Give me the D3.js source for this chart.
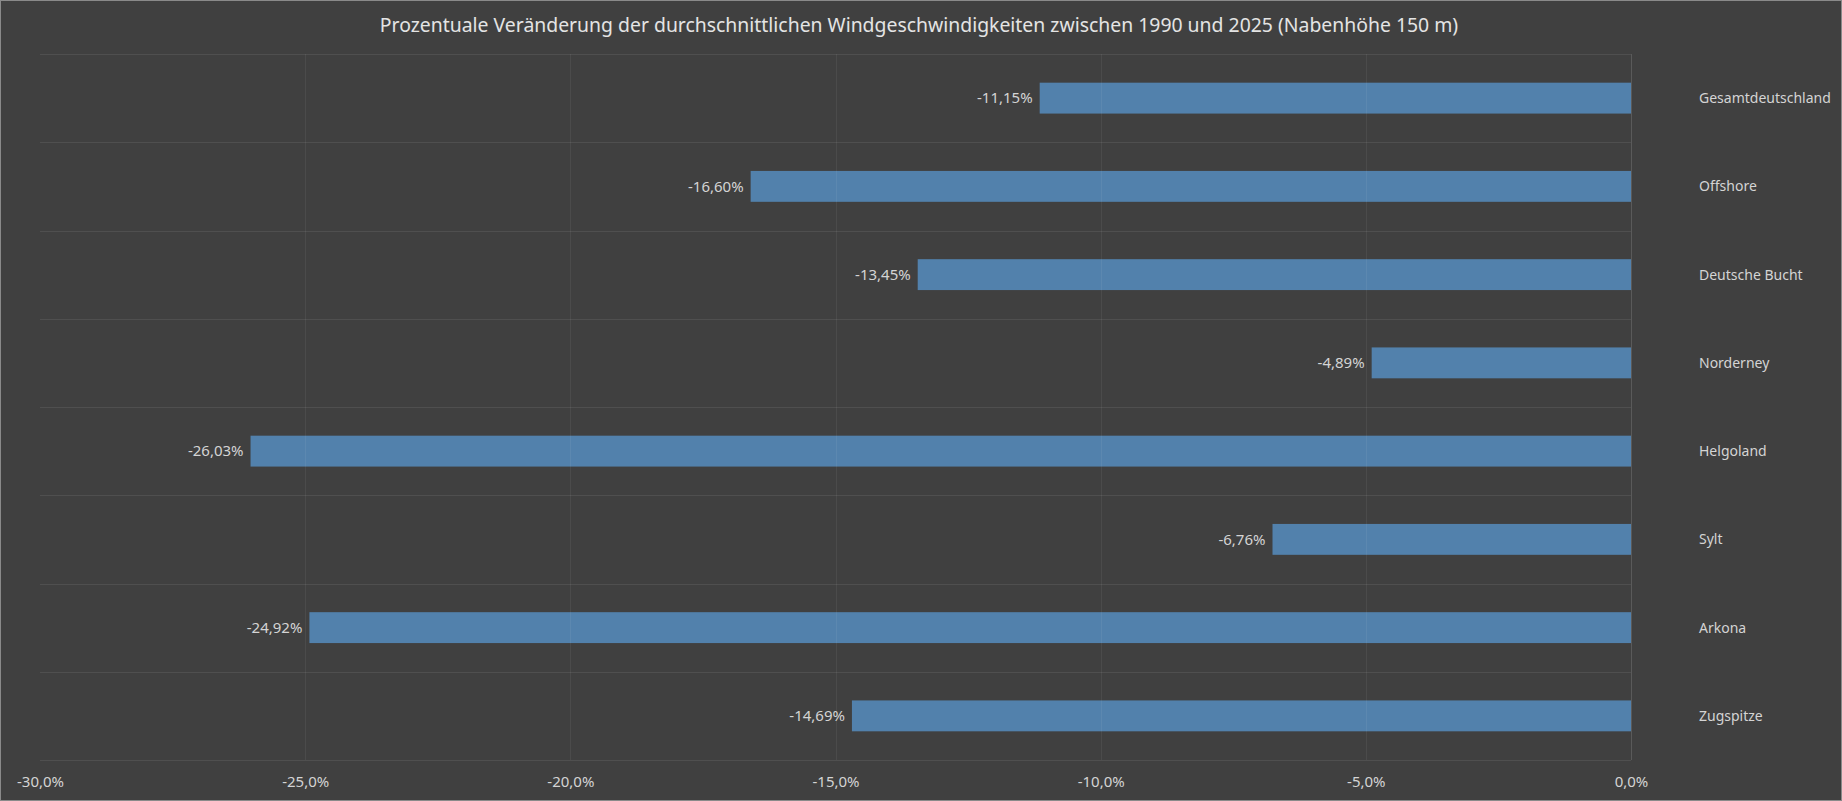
<!DOCTYPE html>
<html>
<head>
<meta charset="utf-8">
<script src="https://cdn.jsdelivr.net/npm/d3@7"></script>
<style>
  html, body { margin: 0; padding: 0; background: #404040; }
  svg { display: block; }
</style>
</head>
<body>
<div id="chart"></div>
<script>
const title = "Prozentuale Veränderung der durchschnittlichen Windgeschwindigkeiten zwischen 1990 und 2025 (Nabenhöhe 150 m)";
const categories = ["Gesamtdeutschland", "Offshore", "Deutsche Bucht", "Norderney", "Helgoland", "Sylt", "Arkona", "Zugspitze"];
const values = [-11.15, -16.60, -13.45, -4.89, -26.03, -6.76, -24.92, -14.69];
const xTicks = [-30, -25, -20, -15, -10, -5, 0];

const width = 1842, height = 801;
const margin = { top: 54, right: 211, bottom: 41, left: 40 };

const de = d3.formatLocale({ decimal: ",", thousands: ".", grouping: [3], currency: ["", " €"], minus: "-" });
const fmtTick = de.format(".1f");
const fmtVal = de.format(".2f");

const svg = d3.select("#chart").append("svg")
    .attr("width", width)
    .attr("height", height);

svg.append("rect")
    .attr("x", 0.5).attr("y", 0.5)
    .attr("width", width - 1).attr("height", height - 1)
    .attr("fill", "#404040")
    .attr("stroke", "#8a8a8a");

const x = d3.scaleLinear()
    .domain([-30, 0])
    .range([margin.left, width - margin.right]);

const y = d3.scaleBand()
    .domain(categories)
    .range([margin.top, height - margin.bottom])
    .paddingInner(0)
    .paddingOuter(0);

const font = "'Noto Sans', sans-serif";
const textColor = "#d4d4d4";

svg.append("text")
    .attr("x", width / 2 - 2)
    .attr("y", 32)
    .attr("text-anchor", "middle")
    .attr("fill", "#e4e4e4")
    .style("font-family", font)
    .style("font-size", "19.4px")
    .text(title);

// bars
const barH = y.bandwidth() * 0.35;
svg.append("g")
    .selectAll("rect")
    .data(categories)
    .join("rect")
    .attr("x", (d, i) => x(values[i]))
    .attr("y", d => y(d) + (y.bandwidth() - barH) / 2)
    .attr("width", (d, i) => x(0) - x(values[i]))
    .attr("height", barH)
    .attr("fill", "#5281ac");

// grid (drawn over bars, faint)
const grid = svg.append("g");
grid.selectAll("line.v")
    .data(xTicks.filter(t => t !== -30))
    .join("line")
    .attr("class", "v")
    .attr("x1", d => Math.round(x(d)) + 0.5)
    .attr("x2", d => Math.round(x(d)) + 0.5)
    .attr("y1", margin.top)
    .attr("y2", height - margin.bottom)
    .attr("stroke", d => d === 0 ? "#5a5a5a" : "#ffffff")
    .attr("stroke-opacity", d => d === 0 ? 1 : 0.06);

const hLines = [margin.top].concat(categories.map(c => y(c) + y.bandwidth()));
grid.selectAll("line.h")
    .data(hLines)
    .join("line")
    .attr("class", "h")
    .attr("x1", margin.left)
    .attr("x2", x(0))
    .attr("y1", d => Math.round(d) + 0.5)
    .attr("y2", d => Math.round(d) + 0.5)
    .attr("stroke", "#ffffff")
    .attr("stroke-opacity", 0.08);

// value labels
svg.append("g")
    .selectAll("text")
    .data(categories)
    .join("text")
    .attr("x", (d, i) => x(values[i]) - 7)
    .attr("y", d => y(d) + y.bandwidth() / 2)
    .attr("dy", "0.35em")
    .attr("text-anchor", "end")
    .attr("fill", textColor)
    .style("font-family", font)
    .style("font-size", "15px")
    .text((d, i) => fmtVal(values[i]) + "%");

// category labels
svg.append("g")
    .selectAll("text")
    .data(categories)
    .join("text")
    .attr("x", 1699)
    .attr("y", d => y(d) + y.bandwidth() / 2)
    .attr("dy", "0.35em")
    .attr("fill", textColor)
    .style("font-family", font)
    .style("font-size", "14px")
    .text(d => d);

// x axis
const xAxis = d3.axisBottom(x)
    .tickValues(xTicks)
    .tickSize(0)
    .tickPadding(0)
    .tickFormat(d => fmtTick(d) + "%");

const ax = svg.append("g")
    .attr("transform", `translate(0, ${height - 14})`)
    .call(xAxis);
ax.select(".domain").remove();
ax.selectAll("text")
    .attr("y", 0)
    .attr("dy", 0)
    .attr("fill", textColor)
    .style("font-family", font)
    .style("font-size", "15px");
</script>
</body>
</html>
